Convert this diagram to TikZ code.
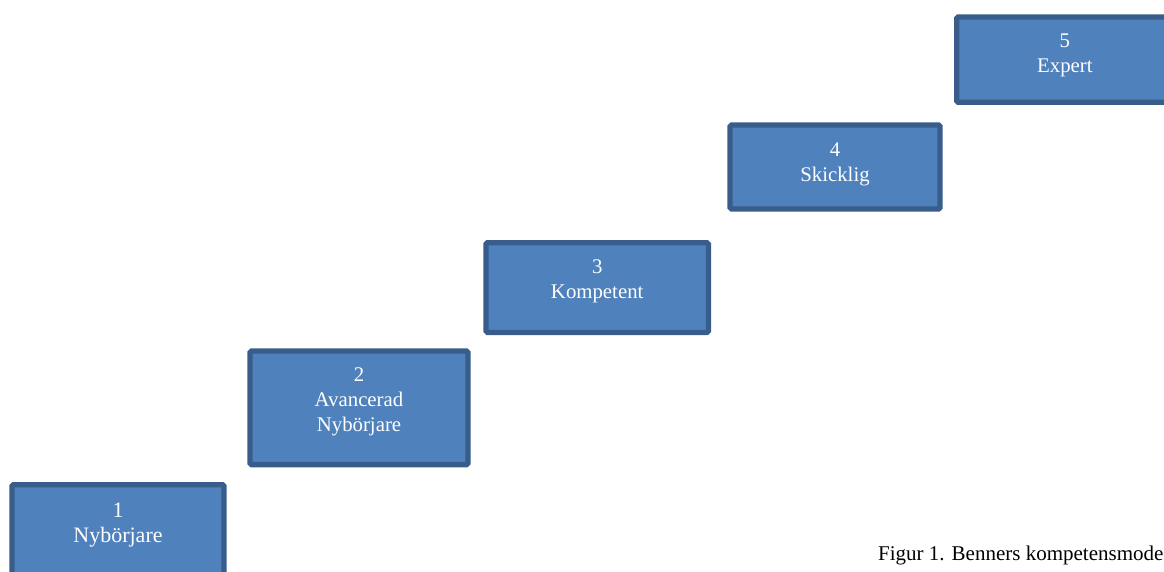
\documentclass[tikz,border=0pt]{standalone}
\usepackage{fontspec}
\setmainfont{Liberation Serif}
\begin{document}
\begin{tikzpicture}[x=1pt,y=-1pt,
  levelbox/.style={draw=boxedge,fill=boxfill,line width=5.3pt,rounded corners=1.5pt,inner sep=0pt},
  leveltext/.style={text=white,align=center,anchor=north,inner sep=0pt,font=\fontsize{20.8}{25}\selectfont},
  captiontext/.style={anchor=base west,inner sep=0pt,font=\fontsize{21}{25}\selectfont}]
\definecolor{boxfill}{HTML}{4F81BD}
\definecolor{boxedge}{HTML}{385D8A}
\useasboundingbox (0,0) rectangle (1164,571);
\clip (0,0) rectangle (1164,571);
% the five steps of the staircase
\node[levelbox,minimum width=212pt,minimum height=115.3pt] (b1) at (118,542.35) {};
\node[levelbox,minimum width=218pt,minimum height=113.6pt] (b2) at (359,407.8) {};
\node[levelbox,minimum width=222.4pt,minimum height=89.7pt] (b3) at (597.2,287.55) {};
\node[levelbox,minimum width=210pt,minimum height=84pt] (b4) at (835,167) {};
\node[levelbox,minimum width=216.3pt,minimum height=85.3pt] (b5) at (1064.85,59.65) {};
% labels inside the steps
\node[leveltext,font=\fontsize{22}{24.5}\selectfont] (t1) at (118,503) {1\\Nybörjare};
\node[leveltext] (t2) at (359,367.5) {2\\Avancerad\\Nybörjare};
\node[leveltext] (t3) at (597.2,259.8) {3\\Kompetent};
\node[leveltext] (t4) at (835,142.2) {4\\Skicklig};
\node[leveltext] (t5) at (1064.85,33.8) {5\\Expert};
% figure caption
\node[captiontext] (cap) at (878,560) {Figur 1. Benners kompetensmode};
\end{tikzpicture}
\end{document}
